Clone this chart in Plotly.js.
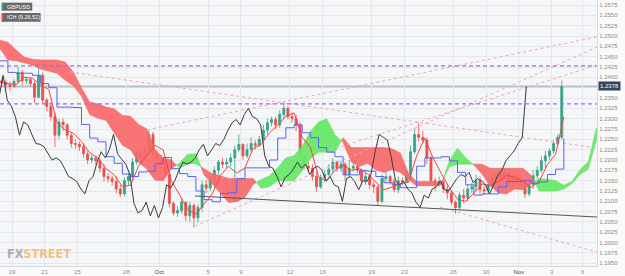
<!DOCTYPE html>
<html><head><meta charset="utf-8">
<script src="https://cdn.plot.ly/plotly-3.0.1.min.js"></script>
<style>html,body{margin:0;padding:0;background:#fafafa}#c{width:625px;height:276px}</style>
</head><body><div id="c"></div>
<script>
// ---- time base: 4 candles per trading day, day 0 = Sep 19 ----
const slotStart = -0.75, slotsPerDay = 4;
const firstOpen = 1.2392;
const closes = [1.2388,1.2382,1.2378, 1.2390,1.2412,1.2392,1.2395, 1.2385,1.2352,1.2405,1.2345,
 1.2330,1.2305,1.2260,1.2292, 1.2285,1.2260,1.2240,1.2238, 1.2232,1.2215,1.2200,1.2205,
 1.2198,1.2180,1.2160,1.2155, 1.2148,1.2130,1.2118,1.2150, 1.2160,1.2195,1.2220,1.2205,
 1.2225,1.2262,1.2215,1.2202, 1.2190,1.2165,1.2095,1.2072, 1.2078,1.2098,1.2065,1.2090,
 1.2060,1.2085,1.2140,1.2132, 1.2150,1.2175,1.2195,1.2190, 1.2195,1.2205,1.2225,1.2238,
 1.2210,1.2225,1.2240,1.2235, 1.2250,1.2272,1.2290,1.2298, 1.2285,1.2310,1.2325,1.2305,
 1.2300,1.2285,1.2210,1.2185, 1.2180,1.2160,1.2135,1.2158, 1.2165,1.2178,1.2195,1.2180,
 1.2190,1.2165,1.2180,1.2185, 1.2175,1.2150,1.2160,1.2140, 1.2135,1.2100,1.2155,1.2160,
 1.2148,1.2128,1.2150,1.2148, 1.2165,1.2220,1.2262,1.2255, 1.2248,1.2205,1.2150,1.2140,
 1.2148,1.2130,1.2120,1.2098, 1.2085,1.2115,1.2108,1.2130, 1.2135,1.2150,1.2128,1.2125,
 1.2140,1.2155,1.2165,1.2160, 1.2170,1.2145,1.2155,1.2150, 1.2140,1.2118,1.2140,1.2162,
 1.2175,1.2198,1.2210,1.2222, 1.2240,1.2255,1.2378];
const highs = [1.2398,1.2395,1.2390, 1.2396,1.2426,1.2418,1.2402, 1.2400,1.2392,1.2424,1.2412,
 1.2350,1.2340,1.2315,1.2300, 1.2300,1.2290,1.2268,1.2250, 1.2245,1.2240,1.2222,1.2212,
 1.2210,1.2205,1.2190,1.2168, 1.2162,1.2160,1.2140,1.2158, 1.2168,1.2205,1.2232,1.2228,
 1.2235,1.2272,1.2268,1.2225, 1.2212,1.2200,1.2170,1.2100, 1.2088,1.2108,1.2100,1.2098,
 1.2095,1.2092,1.2150,1.2152, 1.2160,1.2185,1.2200,1.2205, 1.2205,1.2215,1.2235,1.2262,
 1.2240,1.2240,1.2255,1.2248, 1.2258,1.2285,1.2300,1.2305, 1.2305,1.2320,1.2337,1.2330,
 1.2315,1.2310,1.2292,1.2215, 1.2195,1.2190,1.2170,1.2165, 1.2175,1.2190,1.2205,1.2198,
 1.2198,1.2195,1.2200,1.2195, 1.2192,1.2180,1.2175,1.2168, 1.2148,1.2140,1.2165,1.2175,
 1.2165,1.2155,1.2160,1.2158, 1.2172,1.2235,1.2275,1.2290, 1.2270,1.2255,1.2210,1.2158,
 1.2160,1.2155,1.2140,1.2125, 1.2102,1.2122,1.2130,1.2140, 1.2145,1.2165,1.2160,1.2138,
 1.2148,1.2168,1.2175,1.2172, 1.2180,1.2178,1.2165,1.2162, 1.2158,1.2150,1.2150,1.2175,
 1.2185,1.2210,1.2222,1.2228, 1.2248,1.2262,1.2392];
const lows = [1.2378,1.2372,1.2368, 1.2374,1.2385,1.2380,1.2383, 1.2378,1.2338,1.2350,1.2336,
 1.2318,1.2295,1.2231,1.2250, 1.2270,1.2250,1.2230,1.2228, 1.2222,1.2205,1.2190,1.2192,
 1.2188,1.2170,1.2148,1.2145, 1.2138,1.2120,1.2110,1.2112, 1.2140,1.2150,1.2188,1.2198,
 1.2200,1.2215,1.2200,1.2195, 1.2180,1.2160,1.2085,1.2066, 1.2062,1.2070,1.2052,1.2050,
 1.2037,1.2048,1.2075,1.2120, 1.2125,1.2140,1.2165,1.2180, 1.2180,1.2185,1.2100,1.2220,
 1.2200,1.2205,1.2218,1.2225, 1.2232,1.2245,1.2262,1.2282, 1.2275,1.2278,1.2300,1.2298,
 1.2290,1.2270,1.2195,1.2178, 1.2170,1.2150,1.2123,1.2130, 1.2145,1.2160,1.2170,1.2172,
 1.2172,1.2150,1.2158,1.2172, 1.2168,1.2140,1.2140,1.2130, 1.2120,1.2090,1.2095,1.2145,
 1.2140,1.2122,1.2120,1.2138, 1.2145,1.2160,1.2215,1.2245, 1.2240,1.2190,1.2140,1.2125,
 1.2135,1.2120,1.2105,1.2090, 1.2070,1.2078,1.2095,1.2100, 1.2120,1.2125,1.2118,1.2115,
 1.2120,1.2132,1.2145,1.2152, 1.2155,1.2138,1.2135,1.2142, 1.2132,1.2108,1.2112,1.2130,
 1.2155,1.2170,1.2180,1.2200, 1.2215,1.2235,1.2250];

// ---- Ichimoku lines, half-day grid starting at day -0.75 ----
const gridStart = -0.75, gridStep = 0.5;
const tenkan = [1.2388,1.2385,1.2382,1.2400,1.2398,1.2381,1.2371,1.2290,1.2273,1.2265,1.2245,
 1.2218,1.2205,1.2179,1.2164,1.2136,1.2139,1.2186,1.2212,1.2236,1.2224,1.2149,1.2116,1.2080,
 1.2069,1.2094,1.2118,1.2163,1.2185,1.2168,1.2181,1.2228,1.2238,1.2266,1.2284,1.2306,1.2314,
 1.2255,1.2231,1.2159,1.2149,1.2175,1.2188,1.2175,1.2179,1.2166,1.2148,1.2128,1.2135,1.2143,
 1.2146,1.2210,1.2253,1.2205,1.2168,1.2133,1.2105,1.2100,1.2120,1.2142,1.2138,1.2148,1.2163,
 1.2158,1.2149,1.2133,1.2149,1.2189,1.2214,1.2304];
const kijun = [1.2440,1.2412,1.2410,1.2410,1.2405,1.2385,1.2375,1.2328,1.2328,1.2327,1.2286,
 1.2253,1.2244,1.2208,1.2192,1.2166,1.2160,1.2171,1.2173,1.2191,1.2206,1.2179,1.2167,1.2160,
 1.2125,1.2104,1.2099,1.2119,1.2121,1.2155,1.2181,1.2181,1.2181,1.2200,1.2253,1.2278,1.2285,
 1.2266,1.2254,1.2230,1.2219,1.2208,1.2164,1.2164,1.2175,1.2173,1.2160,1.2145,1.2141,1.2133,
 1.2133,1.2185,1.2205,1.2205,1.2208,1.2198,1.2170,1.2140,1.2115,1.2118,1.2118,1.2135,1.2148,
 1.2148,1.2150,1.2144,1.2147,1.2165,1.2178,1.2252];
const spanA = [1.2471,1.2442,1.2440,1.2435,1.2430,1.2420,1.2415,1.2410,1.2393,1.2380,1.2355,
 1.2310,1.2301,1.2296,1.2266,1.2236,1.2225,1.2194,1.2178,1.2151,1.2150,1.2179,1.2193,1.2214,
 1.2215,1.2164,1.2142,1.2120,1.2097,1.2099,1.2109,1.2141,1.2153,1.2162,1.2181,1.2205,1.2210,
 1.2233,1.2269,1.2292,1.2300,1.2261,1.2243,1.2195,1.2184,1.2192,1.2176,1.2170,1.2177,1.2170,
 1.2154,1.2137,1.2138,1.2138,1.2140,1.2198,1.2229,1.2205,1.2188,1.2166,1.2138,1.2120,1.2118,
 1.2130,1.2128,1.2142,1.2156,1.2153,1.2150,1.2139,1.2148,1.2177,1.2196,1.2278];
const spanB = [1.2490,1.2485,1.2466,1.2449,1.2444,1.2442,1.2442,1.2442,1.2437,1.2413,1.2374,
 1.2340,1.2336,1.2328,1.2324,1.2308,1.2306,1.2286,1.2275,1.2225,1.2205,1.2200,1.2180,1.2191,
 1.2191,1.2179,1.2167,1.2162,1.2155,1.2155,1.2155,1.2155,1.2131,1.2136,1.2150,1.2150,1.2150,
 1.2174,1.2203,1.2219,1.2219,1.2219,1.2254,1.2230,1.2230,1.2230,1.2230,1.2230,1.2227,1.2217,
 1.2168,1.2148,1.2148,1.2148,1.2145,1.2183,1.2190,1.2190,1.2190,1.2190,1.2180,1.2180,1.2180,
 1.2180,1.2180,1.2163,1.2125,1.2125,1.2125,1.2129,1.2143,1.2165,1.2178,1.2250];
const chikouShiftDays = 26 * 2 / 24;   // 26 two-hour periods

// ---- axis ticks ----
const xTickVals = [0,2,4,7,9,12,14,17,19,22,24,27,29,31,33,34.9];
const xTickText = ['19','21','25','28','Oct','5','9','12','16','19','23','26','30','Nov','3','6'];
// 1.2375 is covered by the last-price box in the reference, so it is not listed
const yTickVals = [1.1950,1.1975,1.2000,1.2025,1.2050,1.2075,1.2100,1.2125,1.2150,1.2175,1.2200,
 1.2225,1.2250,1.2275,1.2300,1.2325,1.2350,1.2400,1.2425,1.2450,1.2475,1.2500,1.2525,1.2550,1.2575];

// ---- drawn levels and trend lines ----
const levels = [1.2428, 1.2336];
const trendT0 = [8.26, 11.19, 19.45, 3.55, 26.18];
const trendV0 = [1.2273, 1.2040, 1.2224, 1.2413, 1.2086];
const trendT1 = [35.78, 35.78, 35.78, 35.78, 35.78];
const trendV1 = [1.2498, 1.2473, 1.2430, 1.2229, 1.1977];
const supportT = [11.19, 35.78];
const supportV = [1.2113, 1.2062];

// ---------------------------------------------------------------
const xMin = -0.734, xMax = 35.78;
const candleX = closes.map((_, k) => slotStart + (k + 0.5) / slotsPerDay);
const opens = closes.map((c, k) => k === 0 ? firstOpen : closes[k - 1]);
const lineX = tenkan.map((_, i) => gridStart + gridStep * i);
const cloudX = spanA.map((_, i) => gridStart + gridStep * i);

function cloudPolys(t, a, b) {
  const polys = []; let cur = null;
  for (let i = 0; i < t.length; i++) {
    const up = a[i] >= b[i];
    if (!cur) { cur = {up, t:[t[i]], a:[a[i]], b:[b[i]]}; continue; }
    if (up !== cur.up) {
      const d0 = a[i-1]-b[i-1], d1 = a[i]-b[i];
      const f = d0/(d0-d1);
      const tc = t[i-1] + f*(t[i]-t[i-1]);
      const vc = a[i-1] + f*(a[i]-a[i-1]);
      cur.t.push(tc); cur.a.push(vc); cur.b.push(vc);
      polys.push(cur);
      cur = {up, t:[tc, t[i]], a:[vc, a[i]], b:[vc, b[i]]};
    } else { cur.t.push(t[i]); cur.a.push(a[i]); cur.b.push(b[i]); }
  }
  polys.push(cur);
  return polys;
}

const traces = [];
cloudPolys(cloudX, spanA, spanB).forEach(p => {
  traces.push({type:'scatter', mode:'lines',
    x: p.t.concat(p.t.slice().reverse()),
    y: p.a.concat(p.b.slice().reverse()),
    fill:'toself', fillcolor: p.up ? 'rgba(104,232,104,0.95)' : 'rgba(248,104,104,0.92)',
    line:{width:0.5, color: p.up ? 'rgba(90,220,90,1)' : 'rgba(240,90,90,1)'}, hoverinfo:'skip'});
});
trendT0.forEach((t0, i) => {
  traces.push({type:'scatter', mode:'lines', x:[t0, trendT1[i]], y:[trendV0[i], trendV1[i]],
    line:{color:'#f2a3bf', width:1, dash:'3px,3px'}, hoverinfo:'skip'});
});
traces.push({type:'scatter', mode:'lines', x:supportT, y:supportV,
  line:{color:'#555555', width:1}, hoverinfo:'skip'});
traces.push({type:'scatter', mode:'lines', x:lineX, y:kijun, line:{color:'#5b62f2', width:1, shape:'hv'}, hoverinfo:'skip'});
traces.push({type:'scatter', mode:'lines', x:lineX, y:tenkan, line:{color:'#ef4444', width:1}, hoverinfo:'skip'});
traces.push({type:'scatter', mode:'lines', x:candleX.map(t => t - chikouShiftDays), y:closes,
  line:{color:'#3a3a3a', width:1}, hoverinfo:'skip'});
traces.push({type:'candlestick', x:candleX, open:opens, high:highs, low:lows, close:closes,
  increasing:{line:{color:'#37a384', width:0.8}, fillcolor:'#37a384'},
  decreasing:{line:{color:'#e9504a', width:0.8}, fillcolor:'#e9504a'},
  whiskerwidth:0, hoverinfo:'skip'});

const last = closes[closes.length - 1];
const shapes = [
  {type:'line', xref:'paper', x0:0, x1:1, yref:'y', y0:last, y1:last, layer:'below',
   line:{color:'#b7bfcc', width:2}},
];
levels.forEach(v => shapes.push({type:'line', xref:'paper', x0:0, x1:1, yref:'y', y0:v, y1:v,
   line:{color:'#9a6ee6', width:1.2, dash:'4px,3px'}}));
shapes.push({type:'rect', xref:'paper', yref:'paper', x0:0.003, x1:0.054, y0:0.960, y1:0.990,
  fillcolor:'rgba(80,80,80,0.85)', line:{width:0}});
shapes.push({type:'rect', xref:'paper', yref:'paper', x0:0.003, x1:0.0065, y0:0.960, y1:0.990,
  fillcolor:'#2f9e7c', line:{width:0}});
shapes.push({type:'rect', xref:'paper', yref:'paper', x0:0.003, x1:0.068, y0:0.918, y1:0.951,
  fillcolor:'rgba(80,80,80,0.85)', line:{width:0}});
shapes.push({type:'rect', xref:'paper', yref:'paper', x0:0.003, x1:0.0065, y0:0.918, y1:0.951,
  fillcolor:'#e8453f', line:{width:0}});

const annotations = [
  {xref:'paper', yref:'paper', x:0.009, y:0.975, xanchor:'left', yanchor:'middle', showarrow:false,
   text:'GBPUSD', font:{size:5.5, color:'#ffffff', family:'Liberation Sans, Arial, sans-serif'}},
  {xref:'paper', yref:'paper', x:0.009, y:0.9345, xanchor:'left', yanchor:'middle', showarrow:false,
   text:'ICH (9,26,52)', font:{size:5.5, color:'#ffffff', family:'Liberation Sans, Arial, sans-serif'}},
  {xref:'paper', yref:'y', x:1, y:last, xanchor:'left', yanchor:'middle', showarrow:false, xshift:1,
   text:last.toFixed(4), bgcolor:'#33445f', borderpad:1,
   font:{size:6, color:'#ffffff', family:'Liberation Sans, Arial, sans-serif'}},
  {xref:'paper', yref:'paper', x:0.008, y:0.048, xanchor:'left', yanchor:'middle', showarrow:false,
   text:'<b><span style="color:#a3a3a3">FX</span><span style="color:#f6b86a">STREET</span></b>',
   font:{size:12.5, family:'Liberation Sans Narrow, Arial Narrow, DejaVu Sans Condensed, sans-serif'}, opacity:0.85},
];

const layout = {
  width:625, height:276,
  margin:{l:0, r:28, t:0, b:10, pad:0},
  paper_bgcolor:'#fafafa', plot_bgcolor:'#f5f6f8',
  showlegend:false, hovermode:false,
  font:{family:'Liberation Sans, Arial, sans-serif', size:6, color:'#8a8a8a'},
  xaxis:{range:[xMin, xMax], tickmode:'array', tickvals:xTickVals,
    ticktext:xTickText.map(s => (s==='Oct'||s==='Nov') ? '<span style="color:#444">'+s+'</span>' : s),
    tickfont:{size:6, color:'#8a8a8a'}, showgrid:true, gridcolor:'#e4e7eb', gridwidth:1,
    zeroline:false, showline:true, linecolor:'#d6d9de', ticks:'', rangeslider:{visible:false},
    fixedrange:true},
  yaxis:{side:'right', range:[1.19435, 1.25872], tickmode:'array', tickvals:yTickVals,
    tickformat:'.4f', tickfont:{size:6, color:'#8a8a8a'}, showgrid:true, gridcolor:'#e4e7eb', gridwidth:1,
    zeroline:false, showline:true, linecolor:'#d6d9de', ticks:'', fixedrange:true},
  shapes, annotations
};
Plotly.newPlot('c', traces, layout, {staticPlot:true, displayModeBar:false});
</script></body></html>
